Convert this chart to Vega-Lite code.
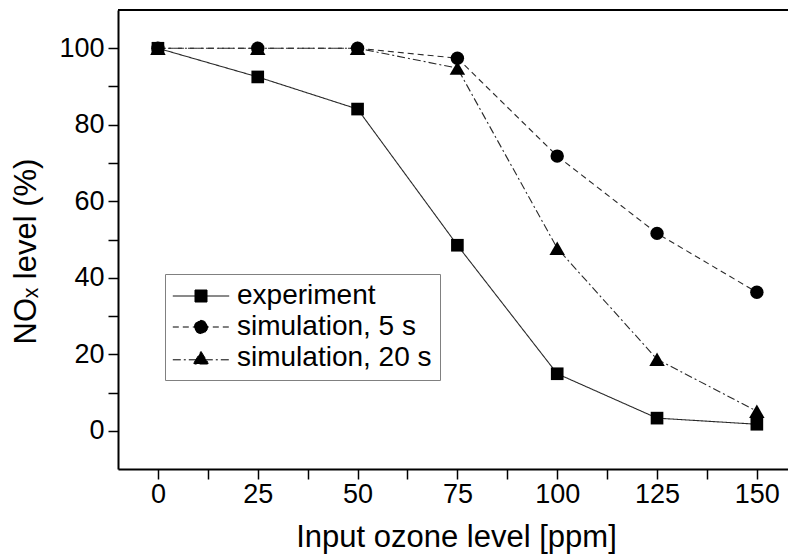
{
  "$schema": "https://vega.github.io/schema/vega-lite/v6.json",
  "width": 670,
  "height": 459,
  "autosize": {"type": "none"},
  "padding": {"left": 118, "top": 10, "right": 0, "bottom": 87},
  "background": "white",
  "config": {"view": {"stroke": null}, "font": "Liberation Sans"},
  "data": {
    "values": [
      {"ozone": 0, "nox": 100, "series": "experiment"},
      {"ozone": 25, "nox": 92.5, "series": "experiment"},
      {"ozone": 50, "nox": 84.1, "series": "experiment"},
      {"ozone": 75, "nox": 48.5, "series": "experiment"},
      {"ozone": 100, "nox": 14.9, "series": "experiment"},
      {"ozone": 125, "nox": 3.3, "series": "experiment"},
      {"ozone": 150, "nox": 1.7, "series": "experiment"},
      {"ozone": 0, "nox": 100, "series": "simulation, 5 s"},
      {"ozone": 25, "nox": 100, "series": "simulation, 5 s"},
      {"ozone": 50, "nox": 100, "series": "simulation, 5 s"},
      {"ozone": 75, "nox": 97.4, "series": "simulation, 5 s"},
      {"ozone": 100, "nox": 71.8, "series": "simulation, 5 s"},
      {"ozone": 125, "nox": 51.6, "series": "simulation, 5 s"},
      {"ozone": 150, "nox": 36.2, "series": "simulation, 5 s"},
      {"ozone": 0, "nox": 100, "series": "simulation, 20 s"},
      {"ozone": 25, "nox": 100, "series": "simulation, 20 s"},
      {"ozone": 50, "nox": 100, "series": "simulation, 20 s"},
      {"ozone": 75, "nox": 94.8, "series": "simulation, 20 s"},
      {"ozone": 100, "nox": 47.7, "series": "simulation, 20 s"},
      {"ozone": 125, "nox": 18.7, "series": "simulation, 20 s"},
      {"ozone": 150, "nox": 5.1, "series": "simulation, 20 s"}
    ]
  },
  "layer": [
    {
      "data": {"values": [{"edge": "top"}]},
      "mark": {"type": "rule", "color": "black", "strokeWidth": 2},
      "encoding": {
        "y": {"datum": 110, "type": "quantitative", "title": "NOₓ level (%)", "scale": {"domain": [-10, 110], "nice": false, "zero": false}}
      }
    },
    {
      "mark": {"type": "line", "strokeWidth": 1.1, "color": "#2a2a2a"},
      "encoding": {
        "x": {
          "field": "ozone", "type": "quantitative", "title": "Input ozone level [ppm]",
          "scale": {"domain": [-10, 157.8], "nice": false, "zero": false},
          "axis": {
            "values": [0, 12.5, 25, 37.5, 50, 62.5, 75, 87.5, 100, 112.5, 125, 137.5, 150],
            "format": "d",
            "labelExpr": "datum.value % 25 === 0 ? datum.label : ''",
            "labelOverlap": false, "labelFlush": false,
            "grid": false,
            "ticks": true,
            "tickSize": 10,
            "encode": {"ticks": {"update": {"y2": {"signal": "datum.value % 25 === 0 ? -10 : -5"}}}},
            "tickColor": "black", "tickWidth": 1.5,
            "domainColor": "black", "domainWidth": 2,
            "labelFont": "Liberation Sans", "labelFontSize": 27, "labelColor": "black", "labelPadding": 2,
            "titleFont": "Liberation Sans", "titleFontSize": 31, "titleFontWeight": "normal", "titleColor": "black",
            "titleX": 338, "titleY": 77, "titleBaseline": "alphabetic", "titleAlign": "center"
          }
        },
        "y": {
          "field": "nox", "type": "quantitative", "title": "NOₓ level (%)",
          "scale": {"domain": [-10, 110], "nice": false, "zero": false},
          "axis": {
            "values": [0, 10, 20, 30, 40, 50, 60, 70, 80, 90, 100],
            "format": "d",
            "labelExpr": "datum.value % 20 === 0 ? datum.label : ''",
            "labelOverlap": false, "labelFlush": false,
            "grid": false,
            "ticks": true,
            "tickSize": 10,
            "encode": {"ticks": {"update": {"x2": {"signal": "datum.value % 20 === 0 ? 10 : 5"}}}},
            "tickColor": "black", "tickWidth": 1.5,
            "domainColor": "black", "domainWidth": 2,
            "labelFont": "Liberation Sans", "labelFontSize": 27, "labelColor": "black", "labelPadding": 4,
            "titleFont": "Liberation Sans", "titleFontSize": 31, "titleFontWeight": "normal", "titleColor": "black",
            "titleX": -83, "titleY": 241, "titleAngle": 270, "titleBaseline": "alphabetic", "titleAlign": "center"
          }
        },
        "strokeDash": {
          "field": "series", "type": "nominal",
          "scale": {"domain": ["experiment", "simulation, 5 s", "simulation, 20 s"], "range": [[1, 0], [6, 4], [8, 3, 2, 3]]},
          "legend": {
            "orient": "none", "legendX": 47, "legendY": 264,
            "title": null,
            "padding": 8,
            "strokeColor": "#808080", "fillColor": "white",
            "labelFont": "Liberation Sans", "labelFontSize": 28, "labelColor": "black", "labelLimit": 0,
            "symbolSize": 144, "symbolOffset": 14, "labelOffset": 22, "rowPadding": 3,
            "symbolStrokeColor": "black", "symbolFillColor": "black", "symbolStrokeWidth": 1,
            "encode": {
              "symbols": {
                "update": {
                  "shape": {"signal": "datum.value === 'experiment' ? 'M-4.7,0H4.7M-1,-1H1V1H-1Z' : datum.value === 'simulation, 5 s' ? 'M-4.7,0H4.7M1.1,0A1.1,1.1,0,1,1,-1.1,0A1.1,1.1,0,1,1,1.1,0Z' : 'M-4.7,0.3H4.7M0,-1.1L1.3,1L-1.3,1Z'"},
                  "fill": {"value": "black"},
                  "stroke": {"value": "black"}
                }
              }
            }
          }
        }
      }
    },
    {
      "transform": [{"filter": "datum.series === 'experiment'"}],
      "mark": {"type": "point", "shape": "square", "size": 160, "filled": true, "opacity": 1, "color": "black"},
      "encoding": {
        "x": {"field": "ozone", "type": "quantitative", "title": "Input ozone level [ppm]"},
        "y": {"field": "nox", "type": "quantitative", "title": "NOₓ level (%)"}
      }
    },
    {
      "transform": [{"filter": "datum.series === 'simulation, 5 s'"}],
      "mark": {"type": "point", "shape": "circle", "size": 180, "filled": true, "opacity": 1, "color": "black"},
      "encoding": {
        "x": {"field": "ozone", "type": "quantitative", "title": "Input ozone level [ppm]"},
        "y": {"field": "nox", "type": "quantitative", "title": "NOₓ level (%)"}
      }
    },
    {
      "transform": [{"filter": "datum.series === 'simulation, 20 s'"}],
      "mark": {"type": "point", "shape": "triangle-up", "size": 240, "filled": true, "opacity": 1, "color": "black"},
      "encoding": {
        "x": {"field": "ozone", "type": "quantitative", "title": "Input ozone level [ppm]"},
        "y": {"field": "nox", "type": "quantitative", "title": "NOₓ level (%)"}
      }
    }
  ]
}
